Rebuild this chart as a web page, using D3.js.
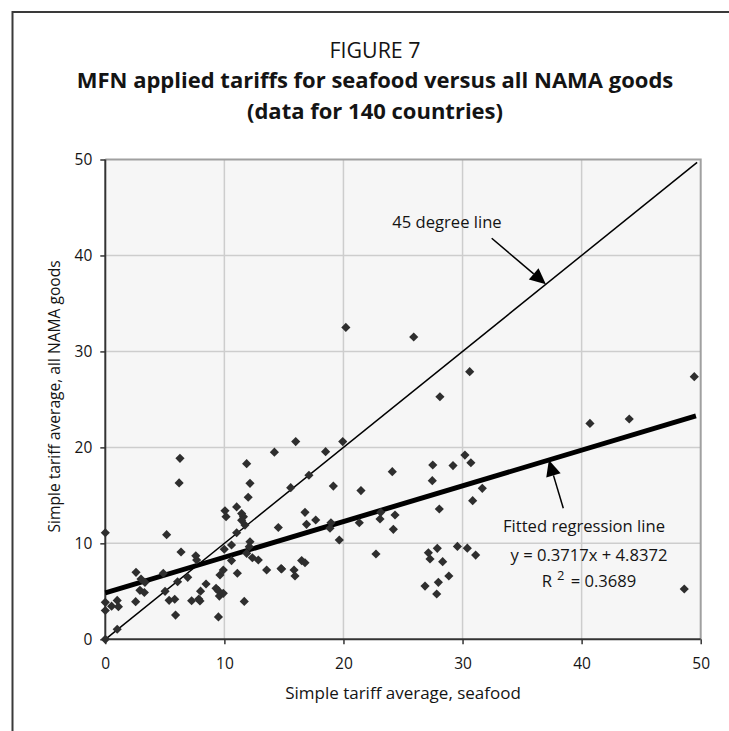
<!DOCTYPE html>
<html><head><meta charset="utf-8">
<script src="https://cdn.jsdelivr.net/npm/d3@7"></script>
<style>
html,body{margin:0;padding:0;background:#fff;}
svg{display:block;}
text{font-family:"Open Sans","Noto Sans",sans-serif;}
</style></head>
<body><svg id="c" width="729" height="731"></svg>
<script>
// Data: [seafood tariff, all NAMA goods tariff]
const seafood = [0,0,0,0,0.53,1.0,1.1,1.0,2.58,2.55,3.0,3.33,2.91,3.28,4.87,5.02,5.36,5.83,5.9,6.07,6.92,7.25,7.85,7.95,8.0,8.46,9.3,9.49,9.58,9.91,9.5,9.63,9.91,9.99,10.05,10.14,10.6,10.6,11.09,11.03,11.03,11.45,11.6,11.45,11.73,11.87,12.15,12.0,12.15,12.09,11.87,12.35,12.85,11.67,13.55,14.53,14.76,14.2,5.15,6.27,6.2,6.36,7.6,7.67,15.57,
  15.99,18.5,19.94,17.1,19.15,21.47,24.1,27.5,29.2,30.2,30.7,27.46,28.1,30.6,25.9,20.2,16.77,16.9,17.67,18.95,18.87,19.65,21.33,23.07,23.13,24.33,24.19,28.05,22.73,27.13,27.27,27.88,28.33,28.85,27.97,26.85,27.83,29.57,30.4,31.1,14.81,15.85,15.93,16.49,16.77,
  49.46,40.7,44.0,31.66,30.85,48.62];
const nama = [0,11.1,3.85,3.0,3.45,4.05,3.4,1.05,6.98,3.92,6.28,5.94,5.1,4.88,6.88,5.0,4.06,4.17,2.52,6.0,6.46,4.02,4.2,4.0,5.02,5.76,5.31,5.07,4.5,4.79,2.33,6.7,7.22,9.38,13.4,12.78,9.83,8.2,6.88,11.1,13.8,13.1,12.78,12.4,11.9,18.3,16.25,14.8,10.17,9.65,8.96,8.5,8.26,3.95,7.22,11.65,7.37,19.5,10.9,18.86,16.3,9.1,8.7,8.26,15.8,
  20.6,19.55,20.6,17.1,15.97,15.5,17.47,18.16,18.1,19.2,18.4,16.53,25.28,27.89,31.5,32.5,13.23,11.98,12.43,12.15,11.57,10.35,12.15,12.54,13.23,12.95,11.46,13.58,8.89,9.02,8.37,9.48,8.09,6.6,5.94,5.55,4.72,9.68,9.5,8.78,7.33,7.22,6.6,8.2,7.98,
  27.37,22.5,22.96,15.73,14.45,5.24];
const xTicks = [0,10,20,30,40,50];
const yTicks = [0,10,20,30,40,50];
const slope = 0.3717, intercept = 4.8372, r2 = "0.3689";
const regX = [0, 49.6];
const diagX = [0, 49.7];
const titleLines = ["FIGURE 7","MFN applied tariffs for seafood versus all NAMA goods","(data for 140 countries)"];
const xLabel = "Simple tariff average, seafood";
const yLabel = "Simple tariff average, all NAMA goods";

const svg = d3.select("#c");
const L = 105.3, R = 700.7, T = 159.5, B = 639.3;
const x = d3.scaleLinear().domain([0,50]).range([L,R]);
const y = d3.scaleLinear().domain([0,50]).range([B,T]);
const ink = "#141414";

// frame
svg.append("path").attr("d","M12.5,731 L12.5,12 L729,12").attr("fill","none").attr("stroke","#3a3a3a").attr("stroke-width",2);

// titles
const tc = 375;
svg.append("text").attr("x",tc).attr("y",58).attr("text-anchor","middle").attr("fill",ink).style("font-size","21.4px").text(titleLines[0]);
svg.append("text").attr("x",tc).attr("y",88).attr("text-anchor","middle").attr("fill",ink).style("font-size","22px").style("font-weight","bold").text(titleLines[1]);
svg.append("text").attr("x",tc).attr("y",118.5).attr("text-anchor","middle").attr("fill",ink).style("font-size","22px").style("font-weight","bold").text(titleLines[2]);

// plot bg
svg.append("rect").attr("x",L).attr("y",T).attr("width",R-L).attr("height",B-T).attr("fill","#f6f6f6");
// grid
const g = svg.append("g");
g.selectAll(".vg").data(xTicks.slice(1,-1)).join("line").attr("x1",d=>x(d)).attr("x2",d=>x(d)).attr("y1",T).attr("y2",B).attr("stroke","#cdcdcd").attr("stroke-width",1.5);
g.selectAll(".hg").data(yTicks.slice(1,-1)).join("line").attr("y1",d=>y(d)).attr("y2",d=>y(d)).attr("x1",L).attr("x2",R).attr("stroke","#cdcdcd").attr("stroke-width",1.5);
// top/right border
svg.append("path").attr("d",`M${L},${T} L${R},${T} L${R},${B}`).attr("fill","none").attr("stroke","#a0a0a0").attr("stroke-width",2);

// axes
const xAxis = d3.axisBottom(x).tickValues(xTicks).tickSize(5).tickPadding(14);
const yAxis = d3.axisLeft(y).tickValues(yTicks).tickSize(5).tickPadding(8);
const gx = svg.append("g").attr("transform",`translate(0,${B})`).call(xAxis);
const gy = svg.append("g").attr("transform",`translate(${L},0)`).call(yAxis);
[gx,gy].forEach(a=>{
  a.select(".domain").attr("stroke","#333").attr("stroke-width",2);
  a.selectAll(".tick line").attr("stroke","#333").attr("stroke-width",1.5);
  a.selectAll(".tick text").style("font-size","15.5px").style("font-family","'Open Sans',sans-serif").attr("fill",ink);
});
gx.select(".domain").attr("d",`M${L},0H${R}`);
gy.select(".domain").attr("d",`M0,${B}V${T}`);

// axis titles
svg.append("text").attr("x",(L+R)/2).attr("y",699).attr("text-anchor","middle").attr("fill",ink).style("font-size","17px").text(xLabel);
svg.append("text").attr("transform",`translate(60,${(T+B)/2 - 3}) rotate(-90)`).attr("text-anchor","middle").attr("fill",ink).style("font-size","15.6px").text(yLabel);

// lines
const line = d3.line().x(d=>x(d[0])).y(d=>y(d[1]));
svg.append("path").attr("d",line(diagX.map(v=>[v,v]))).attr("stroke","#000").attr("stroke-width",1.5).attr("fill","none");
svg.append("path").attr("d",line(regX.map(v=>[v,slope*v+intercept]))).attr("stroke","#000").attr("stroke-width",5).attr("fill","none");

// points
const pts = seafood.map((v,i)=>[v,nama[i]]);
const sym = d3.symbol().type(d3.symbolSquare).size(42);
svg.append("g").selectAll("path").data(pts).join("path")
  .attr("transform",d=>`translate(${x(d[0])},${y(d[1])}) rotate(45)`)
  .attr("d",sym).attr("fill","#2e2e2e");

// arrows
function arrow(x1,y1,x2,y2){
  const ang = Math.atan2(y2-y1,x2-x1), len=16, w=7.5;
  const bx = x2-len*Math.cos(ang), by = y2-len*Math.sin(ang);
  svg.append("line").attr("x1",x1).attr("y1",y1).attr("x2",bx).attr("y2",by).attr("stroke","#000").attr("stroke-width",1.5);
  const px=-Math.sin(ang)*w, py=Math.cos(ang)*w;
  svg.append("path").attr("d",`M${x2},${y2} L${bx+px},${by+py} L${bx-px},${by-py} Z`).attr("fill","#000");
}
const fs = "16.6px";
const dTip = 37.0;
arrow(491.7,238.3,x(dTip),y(dTip));
svg.append("text").attr("x",447).attr("y",228).attr("text-anchor","middle").attr("fill",ink).style("font-size",fs).text("45 degree line");
const rTip = 37.25;
arrow(563.3,508.3,x(rTip),y(slope*rTip+intercept));
svg.append("text").attr("x",584).attr("y",532).attr("text-anchor","middle").attr("fill",ink).style("font-size",fs).text("Fitted regression line");
svg.append("text").attr("x",589).attr("y",561).attr("text-anchor","middle").attr("fill",ink).style("font-size",fs).text(`y = ${slope}x + ${intercept}`);
svg.append("text").attr("x",541.7).attr("y",587).attr("fill",ink).style("font-size",fs).text("R");
svg.append("text").attr("x",557).attr("y",580).attr("fill",ink).style("font-size","13px").text("2");
svg.append("text").attr("x",570.7).attr("y",587).attr("fill",ink).style("font-size",fs).text("= " + r2);
</script></body></html>
